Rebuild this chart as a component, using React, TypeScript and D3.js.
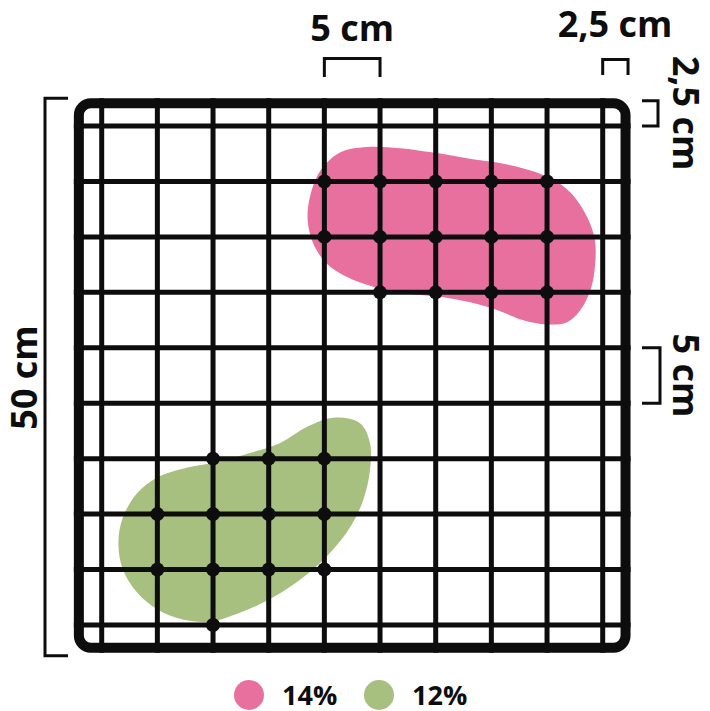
import * as d3 from 'd3';

// grid line positions (cm) inside a 50 cm square frame
const FRAME_CM: [number, number] = [0, 50];
const GRID_CM = [2.5, 7.5, 12.5, 17.5, 22.5, 27.5, 32.5, 37.5, 42.5, 47.5];

// intersections covered by each patch [x cm, y cm]
const PINK_DOTS: [number, number][] = [
  [22.5, 7.5], [27.5, 7.5], [32.5, 7.5], [37.5, 7.5], [42.5, 7.5],
  [22.5, 12.5], [27.5, 12.5], [32.5, 12.5], [37.5, 12.5], [42.5, 12.5],
  [27.5, 17.5], [32.5, 17.5], [37.5, 17.5], [42.5, 17.5],
];
const GREEN_DOTS: [number, number][] = [
  [12.5, 32.5], [17.5, 32.5], [22.5, 32.5],
  [7.5, 37.5], [12.5, 37.5], [17.5, 37.5], [22.5, 37.5],
  [7.5, 42.5], [12.5, 42.5], [17.5, 42.5], [22.5, 42.5],
  [12.5, 47.5],
];

// patch outlines (cm)
const PINK_BLOB: [number, number][] = [
  [23.9, 4.9], [26.3, 4.4], [29.3, 4.5], [32.3, 4.9], [35.3, 5.4], [38.0, 5.8],
  [40.3, 6.3], [42.8, 7.2], [44.6, 8.5], [46.1, 10.7], [46.8, 12.8], [46.8, 15.2],
  [46.4, 17.3], [45.5, 19.1], [44.3, 20.2], [42.5, 20.4], [40.3, 20.0], [38.0, 19.1],
  [35.6, 18.4], [32.9, 17.9], [29.9, 17.6], [26.9, 17.0], [24.5, 16.1], [22.7, 14.9],
  [21.5, 13.1], [21.0, 11.0], [21.2, 8.9], [22.1, 6.6],
];
const GREEN_BLOB: [number, number][] = [
  [23.3, 28.8], [25.7, 29.3], [26.6, 31.1], [26.6, 33.5], [26.0, 36.2], [24.8, 38.7],
  [23.0, 41.0], [20.6, 43.2], [17.9, 45.0], [14.9, 46.4], [12.2, 47.2], [9.8, 47.0],
  [7.5, 46.1], [5.7, 44.6], [4.4, 42.5], [4.0, 40.1], [4.4, 37.8], [5.7, 35.6],
  [7.5, 34.2], [10.2, 33.3], [12.9, 32.8], [15.8, 32.0], [18.5, 31.1], [21.0, 29.6],
];

const LEGEND = [
  { label: '14%', color: '#E8709F' },
  { label: '12%', color: '#A7BF7F' },
];

const FONT = '"Open Sans", "DejaVu Sans", sans-serif';
const INK = '#0d0d0d';

export default function App() {
  const width = 710;
  const height = 711;

  const x = d3.scaleLinear().domain([2.5, 47.5]).range([101.7, 602.7]);
  const y = d3.scaleLinear().domain([2.5, 47.5]).range([126, 625]);

  const blobLine = d3.line<[number, number]>()
    .x(d => x(d[0]))
    .y(d => y(d[1]))
    .curve(d3.curveCatmullRomClosed.alpha(0.5));

  const frameW = 10;
  const x0 = x(FRAME_CM[0]), x1 = x(FRAME_CM[1]);
  const y0 = y(FRAME_CM[0]), y1 = y(FRAME_CM[1]);

  const bracket = { stroke: INK, strokeWidth: 3, fill: 'none' };
  const label = { fontFamily: FONT, fontWeight: 700, fontSize: 36, fill: INK };

  return (
    <svg width={width} height={height} style={{ position: 'absolute', left: 0, top: 0, background: '#fff' }}>
      {/* patches */}
      <path d={blobLine(PINK_BLOB) ?? ''} fill={LEGEND[0].color} />
      <path d={blobLine(GREEN_BLOB) ?? ''} fill={LEGEND[1].color} />

      {/* grid */}
      {GRID_CM.map(c => (
        <line key={'v' + c} x1={x(c)} x2={x(c)} y1={y0} y2={y1} stroke={INK} strokeWidth={5} />
      ))}
      {GRID_CM.map(c => (
        <line key={'h' + c} x1={x0} x2={x1} y1={y(c)} y2={y(c)} stroke={INK} strokeWidth={5} />
      ))}

      {/* frame */}
      <rect x={x0 + frameW / 2} y={y0 + frameW / 2}
        width={x1 - x0 - frameW} height={y1 - y0 - frameW}
        rx={12} fill="none" stroke={INK} strokeWidth={frameW} />

      {/* knots */}
      {[...PINK_DOTS, ...GREEN_DOTS].map(([cx, cy], i) => (
        <circle key={i} cx={x(cx)} cy={y(cy)} r={7} fill={INK} />
      ))}

      {/* top dimension: 5 cm */}
      <path d={`M${x(22.5)},77V58.5H${x(27.5)}V77`} {...bracket} />
      <text x={(x(22.5) + x(27.5)) / 2} y={41} textAnchor="middle" {...label}>5 cm</text>

      {/* top dimension: 2,5 cm */}
      <path d={`M${x(47.5)},75V59.5H${x(50) - 2.5}V75`} {...bracket} />
      <text x={615} y={37} textAnchor="middle" {...label}>2,5 cm</text>

      {/* right dimension: 2,5 cm */}
      <path d={`M642,${y(0) + 2.5}H658V${y(2.5)}H642`} {...bracket} />
      <text transform="translate(686,113) rotate(90)" textAnchor="middle"
        dominantBaseline="central" {...label}>2,5 cm</text>

      {/* right dimension: 5 cm */}
      <path d={`M642,${y(22.5)}H660V${y(27.5)}H642`} {...bracket} />
      <text transform={`translate(686,${(y(22.5) + y(27.5)) / 2}) rotate(90)`} textAnchor="middle"
        dominantBaseline="central" {...label}>5 cm</text>

      {/* left dimension: 50 cm */}
      <path d={`M68,${y0}H45V${y1 + 3}H68`} {...bracket} />
      <text transform={`translate(23,${(y0 + y1) / 2 + 2}) rotate(-90)`} textAnchor="middle"
        dominantBaseline="central" {...label}>50 cm</text>

      {/* legend */}
      {LEGEND.map((d, i) => (
        <g key={d.label} transform={`translate(${249 + i * 130},695)`}>
          <circle r={15} fill={d.color} />
          <text x={33} y={9.5} fontFamily={FONT} fontWeight={700} fontSize={27} fill={INK}>{d.label}</text>
        </g>
      ))}
    </svg>
  );
}
